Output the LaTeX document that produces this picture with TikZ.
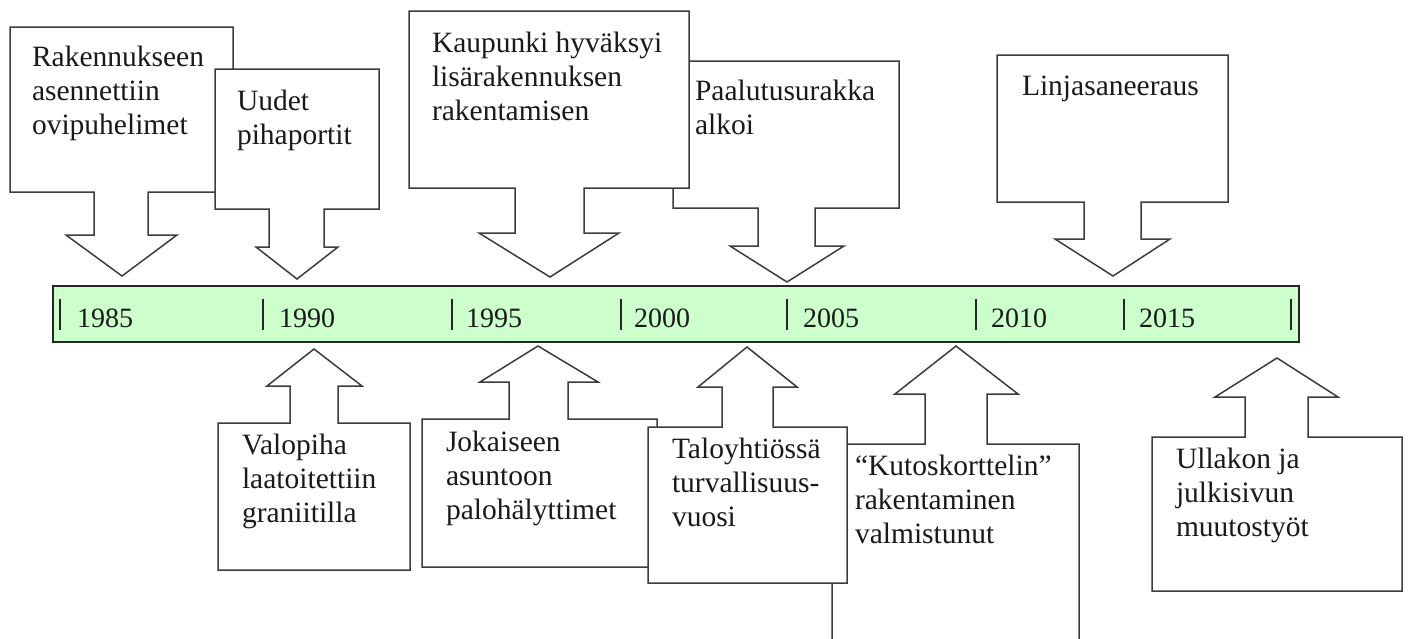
\documentclass[tikz,border=0pt]{standalone}
\usepackage{fontspec}
\setmainfont{Liberation Serif}
\definecolor{linegray}{HTML}{3C3C3C}
\definecolor{barfill}{HTML}{CCFFCC}
\definecolor{bartext}{HTML}{1A1A1A}
\begin{document}
\begin{tikzpicture}[x=1pt,y=-1pt,
  callout/.style={draw=linegray, line width=1.5pt, fill=white, line join=miter},
  lbl/.style={anchor=base west, inner sep=0pt, outer sep=0pt, align=left, text=bartext,
    font=\fontsize{29.5}{34}\selectfont},
  yearlbl/.style={anchor=base west, inner sep=0pt, outer sep=0pt, text=bartext,
    font=\fontsize{28}{32}\selectfont},
  bar/.style={draw=black!85, line width=1.8pt, fill=barfill},
  tick/.style={draw=black!85, line width=1.3pt}]
\useasboundingbox (0,0) rectangle (1408,638);
\clip (0,0) rectangle (1408,638);

% ---- upper callouts (pointing down) ----
% (label positions give the baseline of the LAST line)
\draw[callout] (10,27) -- (233,27) -- (233,192) -- (148,192) -- (148,235) -- (177,235) -- (122,276) -- (66,235) -- (94,235) -- (94,192) -- (10,192) -- cycle;
\node[lbl] (t1) at (32,134) {Rakennukseen\\asennettiin\\ovipuhelimet};

\draw[callout] (215,69) -- (379,69) -- (379,209) -- (324,209) -- (324,247) -- (338,247) -- (297,279) -- (256,247) -- (269,247) -- (269,209) -- (215,209) -- cycle;
\node[lbl] (t2) at (237,144) {Uudet\\pihaportit};

\draw[callout] (673,61) -- (899,61) -- (899,208) -- (815,208) -- (815,246) -- (844,246) -- (787,282) -- (730,246) -- (758,246) -- (758,208) -- (673,208) -- cycle;
\node[lbl] (t4) at (695,134) {Paalutusurakka\\alkoi};

\draw[callout] (409,11) -- (689,11) -- (689,188) -- (584,188) -- (584,233) -- (619,233) -- (550,277) -- (479,233) -- (515,233) -- (515,188) -- (409,188) -- cycle;
\node[lbl] (t3) at (432,120) {Kaupunki hyväksyi\\lisärakennuksen\\rakentamisen};

\draw[callout] (997,55) -- (1228,55) -- (1228,202) -- (1141,202) -- (1141,239) -- (1170,239) -- (1113,276) -- (1055,239) -- (1084,239) -- (1084,202) -- (997,202) -- cycle;
\node[lbl] (t5) at (1022,95) {Linjasaneeraus};

% ---- timeline bar ----
\draw[bar] (53,286) rectangle (1299,342);
\foreach \x in {60,263,452,621,787,976,1124,1291}
  \draw[tick] (\x,299) -- (\x,330);
\node[yearlbl] (y1985) at (77,327) {1985};
\node[yearlbl] (y1990) at (279,327) {1990};
\node[yearlbl] (y1995) at (466,327) {1995};
\node[yearlbl] (y2000) at (634,327) {2000};
\node[yearlbl] (y2005) at (803,327) {2005};
\node[yearlbl] (y2010) at (991,327) {2010};
\node[yearlbl] (y2015) at (1139,327) {2015};

% ---- lower callouts (pointing up) ----
\draw[callout] (832,700) -- (832,444) -- (925,444) -- (925,394) -- (895,394) -- (956,346) -- (1018,394) -- (987,394) -- (987,444) -- (1079,444) -- (1079,700) -- cycle;
\node[lbl] (b4) at (855,543) {“Kutoskorttelin”\\rakentaminen\\valmistunut};

\draw[callout] (422,567) -- (422,419) -- (509,419) -- (509,382) -- (480,382) -- (538,346) -- (598,382) -- (568,382) -- (568,419) -- (657,419) -- (657,567) -- cycle;
\node[lbl] (b2) at (446,519) {Jokaiseen\\asuntoon\\palohälyttimet};

\draw[callout] (218,570) -- (218,423) -- (290,423) -- (290,386) -- (267,386) -- (314,349) -- (362,386) -- (338,386) -- (338,423) -- (410,423) -- (410,570) -- cycle;
\node[lbl] (b1) at (242,522) {Valopiha\\laatoitettiin\\graniitilla};

\draw[callout] (1152,591) -- (1152,437) -- (1245,437) -- (1245,397) -- (1215,397) -- (1277,358) -- (1338,397) -- (1308,397) -- (1308,437) -- (1402,437) -- (1402,591) -- cycle;
\node[lbl] (b5) at (1176,536) {Ullakon ja\\julkisivun\\muutostyöt};

\draw[callout] (648,583) -- (648,427) -- (722,427) -- (722,387) -- (698,387) -- (747,347) -- (797,387) -- (773,387) -- (773,427) -- (847,427) -- (847,583) -- cycle;
\node[lbl] (b3) at (672,526) {Taloyhtiössä\\turvallisuus-\\vuosi};
\end{tikzpicture}
\end{document}
